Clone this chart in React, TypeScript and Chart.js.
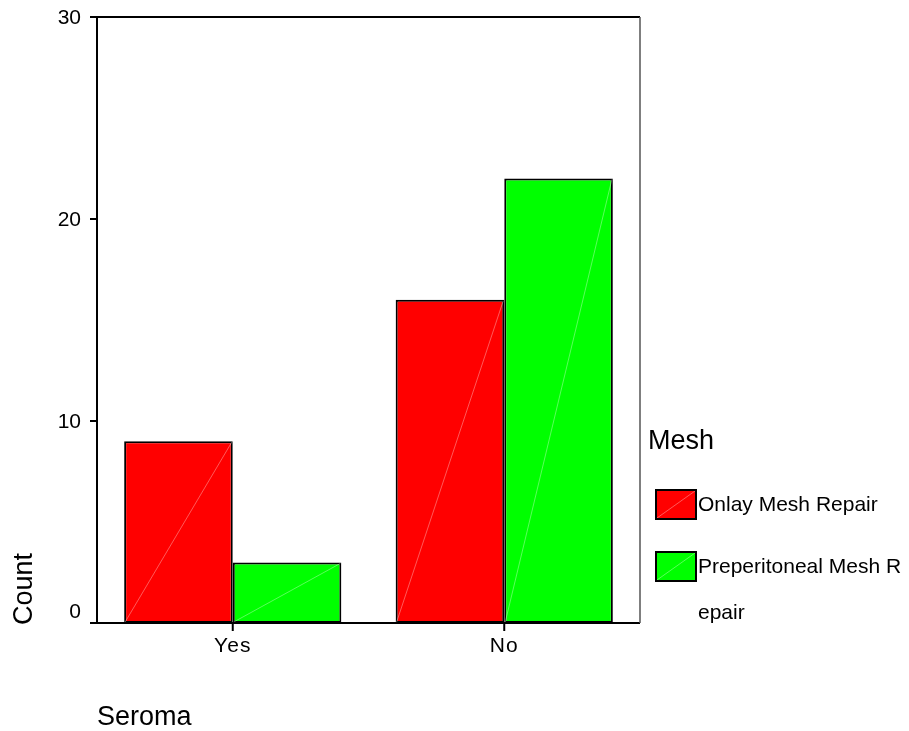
import React, { useEffect, useRef } from "react";
import { Chart, registerables } from "chart.js";

Chart.register(...registerables);

const categories = ["Yes", "No"];
const onlayValues = [9, 16];
const preperitonealValues = [3, 22];
const seriesLabels = ["Onlay Mesh Repair", "Preperitoneal Mesh Repair"];
const seriesColors = ["#ff0000", "#00ff00"];
const yTicks = [0, 10, 20, 30];
const xTitle = "Seroma";
const yTitle = "Count";
const legendTitle = "Mesh";

const FONT = "'Liberation Sans', Arial, sans-serif";

const framePlugin = {
  id: "spssFrame",
  afterDatasetsDraw(chart: any) {
    const ctx = chart.ctx as CanvasRenderingContext2D;
    const { left, right, top, bottom } = chart.chartArea;
    const y = chart.scales.y;
    const x = chart.scales.x;
    ctx.save();
    // faint diagonal artifacts inside bars
    ctx.strokeStyle = "rgba(255,255,255,0.35)";
    ctx.lineWidth = 1;
    chart.data.datasets.forEach((_: any, di: number) => {
      chart.getDatasetMeta(di).data.forEach((bar: any) => {
        const p = bar.getProps(["x", "y", "base", "width"], true);
        ctx.beginPath();
        ctx.moveTo(p.x - p.width / 2 + 1, p.base - 1);
        ctx.lineTo(p.x + p.width / 2 - 1, p.y + 1);
        ctx.stroke();
      });
    });
    ctx.strokeStyle = "#000";
    ctx.lineWidth = 2;
    // frame
    ctx.beginPath();
    ctx.moveTo(left, bottom);
    ctx.lineTo(left, top);
    ctx.lineTo(right, top);
    ctx.moveTo(left - 7, bottom);
    ctx.lineTo(right, bottom);
    ctx.stroke();
    ctx.lineWidth = 1.5;
    ctx.strokeStyle = "#555";
    ctx.beginPath();
    ctx.moveTo(right, top);
    ctx.lineTo(right, bottom);
    ctx.stroke();
    ctx.lineWidth = 2;
    ctx.strokeStyle = "#000";
    // y ticks
    ctx.font = `21px ${FONT}`;
    ctx.fillStyle = "#000";
    ctx.textAlign = "right";
    ctx.textBaseline = "middle";
    yTicks.forEach((v) => {
      const py = y.getPixelForValue(v);
      ctx.beginPath();
      ctx.moveTo(left - 7, py);
      ctx.lineTo(left, py);
      ctx.stroke();
      const ly = v === 0 ? py - 11 : py + 1;
      ctx.fillText(String(v), left - 16, ly);
    });
    // x ticks
    ctx.textAlign = "center";
    categories.forEach((c, i) => {
      const px = x.getPixelForValue(i);
      ctx.beginPath();
      ctx.moveTo(px, bottom);
      ctx.lineTo(px, bottom + 8);
      ctx.stroke();
      (ctx as any).letterSpacing = "1px";
      ctx.fillText(c, px, bottom + 23);
      (ctx as any).letterSpacing = "0px";
    });
    // axis titles
    ctx.font = `27px ${FONT}`;
    ctx.textAlign = "left";
    ctx.textBaseline = "alphabetic";
    ctx.fillText(xTitle, left, 725);
    ctx.save();
    ctx.translate(32, 625);
    ctx.rotate(-Math.PI / 2);
    ctx.fillText(yTitle, 0, 0);
    ctx.restore();
    // legend
    ctx.fillText(legendTitle, 648, 449);
    ctx.font = `21px ${FONT}`;
    ctx.textBaseline = "middle";
    const maxW = 909 - 698;
    chart.data.datasets.forEach((ds: any, i: number) => {
      const by = 490 + i * 62;
      ctx.fillStyle = ds.backgroundColor;
      ctx.fillRect(656, by, 40, 29);
      ctx.strokeStyle = "rgba(255,255,255,0.35)";
      ctx.lineWidth = 1;
      ctx.beginPath();
      ctx.moveTo(657, by + 28);
      ctx.lineTo(695, by + 1);
      ctx.stroke();
      ctx.strokeStyle = "#000";
      ctx.lineWidth = 2;
      ctx.strokeRect(656, by, 40, 29);
      ctx.fillStyle = "#000";
      // char wrap
      const lines: string[] = [];
      let cur = "";
      for (const ch of ds.label as string) {
        if (ctx.measureText(cur + ch).width > maxW && cur.length) {
          lines.push(cur);
          cur = ch;
        } else cur += ch;
      }
      if (cur) lines.push(cur);
      lines.forEach((ln, k) => {
        ctx.fillText(ln, 698, by + 15 + k * 46);
      });
    });
    ctx.restore();
  },
};

export default function App() {
  const ref = useRef<HTMLCanvasElement>(null);
  useEffect(() => {
    document.body.style.margin = "0";
    const chart = new Chart(ref.current!, {
      type: "bar",
      data: {
        labels: categories,
        datasets: [
          {
            label: seriesLabels[0],
            data: onlayValues,
            backgroundColor: seriesColors[0],
            borderColor: "#000",
            borderWidth: 2,
            borderSkipped: false,
            categoryPercentage: 0.8,
            barPercentage: 1.0,
          },
          {
            label: seriesLabels[1],
            data: preperitonealValues,
            backgroundColor: seriesColors[1],
            borderColor: "#000",
            borderWidth: 2,
            borderSkipped: false,
            categoryPercentage: 0.8,
            barPercentage: 1.0,
          },
        ],
      },
      options: {
        responsive: false,
        animation: false,
        devicePixelRatio: 1,
        layout: { padding: { left: 97, top: 17, right: 269, bottom: 108 } },
        plugins: { legend: { display: false }, tooltip: { enabled: false } },
        scales: {
          x: { display: false, offset: true },
          y: { display: false, min: 0, max: 30 },
        },
      },
      plugins: [framePlugin],
    });
    return () => chart.destroy();
  }, []);
  return (
    <div style={{ width: 909, height: 731, background: "#fff" }}>
      <canvas ref={ref} width={909} height={731} />
    </div>
  );
}
